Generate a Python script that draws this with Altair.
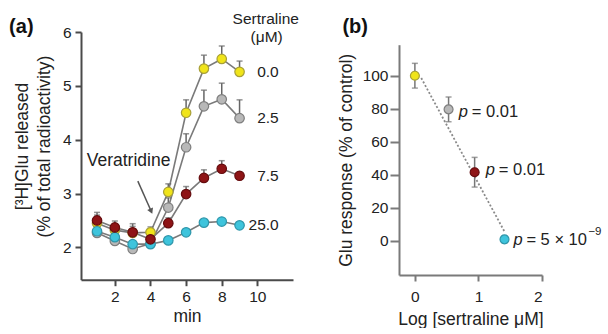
import altair as alt
import pandas as pd

FONT = "Liberation Sans"

# ---------------- Panel (a): glutamate release time course ----------------
minutes = [1, 2, 3, 4, 5, 6, 7, 8, 9]
series_names = ["0.0", "2.5", "7.5", "25.0"]
release_0 = [2.45, 2.32, 2.27, 2.28, 3.03, 4.50, 5.32, 5.50, 5.26]
release_2_5 = [2.27, 2.12, 1.97, 2.07, 2.74, 3.86, 4.62, 4.75, 4.40]
release_7_5 = [2.50, 2.37, 2.28, 2.15, 2.45, 2.99, 3.29, 3.46, 3.33]
release_25 = [2.30, 2.19, 2.06, 2.06, 2.13, 2.28, 2.46, 2.48, 2.41]
sem_0 = [0.15, 0.12, 0.12, 0.10, 0.15, 0.24, 0.25, 0.24, 0.20]
sem_2_5 = [0.10, 0.10, 0.10, 0.10, 0.18, 0.25, 0.30, 0.30, 0.34]
sem_7_5 = [0.15, 0.12, 0.16, 0.08, 0.10, 0.14, 0.15, 0.15, 0.06]
sem_25 = [0.05, 0.05, 0.05, 0.04, 0.05, 0.05, 0.05, 0.05, 0.05]

fills = ["#f0e41a", "#b8b8b8", "#8e1416", "#3ec4dc"]
strokes = ["#a8a038", "#7e7e7e", "#650c0e", "#2f96aa"]
# drawing order: grey first, then yellow, cyan, red on top
draw_order = {"2.5": 0, "0.0": 1, "25.0": 2, "7.5": 3}

rows = []
for name, vals, sems in zip(series_names,
                            [release_0, release_2_5, release_7_5, release_25],
                            [sem_0, sem_2_5, sem_7_5, sem_25]):
    for m, v, s in zip(minutes, vals, sems):
        rows.append({"x": m, "y": v, "y2": v + s, "series": name,
                     "order": draw_order[name]})
df_a = pd.DataFrame(rows).sort_values(["order", "x"])

# series labels at the right end of each curve
label_x = [11.2, 11.2, 11.2, 11.2]
label_y = [release_0[-1], release_2_5[-1], release_7_5[-1], release_25[-1]]
df_lab = pd.DataFrame({"x": label_x, "y": label_y, "text": series_names})

df_head = pd.DataFrame({"x": [10.47, 10.52], "y": [6.25, 5.91],
                        "text": ["Sertraline", "(μM)"]})
df_vera = pd.DataFrame({"x": [2.77], "y": [3.60], "text": ["Veratridine"]})
arrow_x = [3.29, 4.04]
arrow_y = [3.23, 2.67]
df_arrow = pd.DataFrame({"x": [arrow_x[0]], "y": [arrow_y[0]],
                         "x2": [arrow_x[1]], "y2": [arrow_y[1]]})
df_arrow_head = pd.DataFrame({"x": [arrow_x[1]], "y": [arrow_y[1]]})
df_tag_a = pd.DataFrame({"x": [-3.25], "y": [6.1], "text": ["(a)"]})

AX_A = "#4a4a4a"
x_scale_a = alt.Scale(domain=[0.1, 12], nice=False, zero=False)
y_scale_a = alt.Scale(domain=[1.4, 6], nice=False, zero=False)
x_axis_a = alt.Axis(values=[2, 4, 6, 8, 10], title="min", grid=False,
                    tickSize=6, tickWidth=2, tickColor=AX_A,
                    domainColor=AX_A, domainWidth=2, labelPadding=4,
                    labelFontSize=15.5, labelColor="#222", labelFont=FONT,
                    titleFont=FONT, titleFontSize=17.5, titleFontWeight="normal",
                    titleColor="#222", titlePadding=2)
y_axis_a = alt.Axis(values=[2, 3, 4, 5, 6],
                    title=["[³H]Glu released", "(% of total radioactivity)"],
                    grid=False, tickSize=6, tickWidth=2, tickColor=AX_A,
                    domainColor=AX_A, domainWidth=2, labelPadding=4,
                    labelFontSize=15.5, labelColor="#222", labelFont=FONT,
                    titleFont=FONT, titleFontSize=17.5, titleFontWeight="normal",
                    titleColor="#222", titleLineHeight=22, titleY=114,
                    titlePadding=9)

def xa(field="x"):
    return alt.X(f"{field}:Q", scale=x_scale_a, axis=x_axis_a)

def ya(field="y"):
    return alt.Y(f"{field}:Q", scale=y_scale_a, axis=y_axis_a)

color_a = alt.Color("series:N", scale=alt.Scale(domain=series_names, range=fills),
                    legend=None)
stroke_a = alt.Stroke("series:N", scale=alt.Scale(domain=series_names, range=strokes),
                      legend=None)

lines_a = alt.Chart(df_a).mark_line(color="#7a7a7a", strokeWidth=1.6).encode(
    x=xa(), y=ya(), detail="series:N", order="x:Q")
err_a = alt.Chart(df_a).mark_rule(color="#666", strokeWidth=1.5).encode(
    x=xa(), y=ya(), y2="y2:Q")
cap_a = alt.Chart(df_a).mark_tick(color="#666", orient="horizontal", size=6,
                                  thickness=1.5).encode(x=xa(), y=ya("y2"))
pts_a = alt.Chart(df_a).mark_point(filled=True, size=90, opacity=1,
                                   strokeWidth=1.2, strokeOpacity=1).encode(
    x=xa(), y=ya(), fill=color_a, stroke=stroke_a, order="order:Q")
labels_a = alt.Chart(df_lab).mark_text(align="right", baseline="middle",
                                       font=FONT, fontSize=15.5, color="#222").encode(
    x=xa(), y=ya(), text="text:N")
head_a = alt.Chart(df_head).mark_text(align="center", baseline="middle",
                                      font=FONT, fontSize=15.5, color="#222").encode(
    x=xa(), y=ya(), text="text:N")
vera_a = alt.Chart(df_vera).mark_text(align="center", baseline="middle",
                                      font=FONT, fontSize=17.5, color="#222").encode(
    x=xa(), y=ya(), text="text:N")
arrow_a = alt.Chart(df_arrow).mark_rule(color="#555", strokeWidth=1.5).encode(
    x=xa(), y=ya(), x2="x2:Q", y2="y2:Q")
arrow_tip = alt.Chart(df_arrow_head).mark_point(shape="triangle-down", filled=True,
                                               color="#555", size=40, angle=336,
                                               opacity=1).encode(x=xa(), y=ya())
tag_a = alt.Chart(df_tag_a).mark_text(align="center", baseline="middle", font=FONT,
                                      fontSize=20, fontWeight="bold",
                                      color="#111").encode(
    x=xa(), y=ya(), text="text:N")

panel_a = alt.layer(lines_a, err_a, cap_a, arrow_a, arrow_tip, pts_a, labels_a,
                    head_a, vera_a, tag_a).properties(width=212, height=247.7)

# ---------------- Panel (b): concentration response ----------------
log_conc = [0.0, 0.53, 0.94, 1.41]
glu_response = [100.0, 79.6, 41.5, 0.8]
glu_err = [7.5, 7.5, 9.0, 2.0]
fit_x = [0.1, 1.41]
fit_y = [98.6, 5.5]
p_x = [0.69, 1.115, 1.55]
p_y = [78.3, 42.9, 0.4]
p_text = ["= 0.01", "= 0.01", "= 5 × 10"]
p_exp = ["", "", "−9"]

df_b = pd.DataFrame({"x": log_conc, "y": glu_response,
                     "lo": [v - e for v, e in zip(glu_response, glu_err)],
                     "hi": [v + e for v, e in zip(glu_response, glu_err)],
                     "series": series_names})
df_fit = pd.DataFrame({"x": fit_x, "y": fit_y})
df_p = pd.DataFrame({"x": p_x, "y": p_y, "text": p_text, "exp": p_exp})
df_tag_b = pd.DataFrame({"x": [-0.94], "y": [129.8], "text": ["(b)"]})

AX_B = "#7a7a7a"
x_scale_b = alt.Scale(domain=[-0.25, 2], nice=False, zero=False)
y_scale_b = alt.Scale(domain=[-20.8, 118.8], range=[243, 12.7], nice=False, zero=False)
x_axis_b = alt.Axis(values=[0, 1, 2], title="Log [sertraline μM]", grid=False,
                    tickSize=6, tickWidth=2, tickColor=AX_B,
                    domainColor=AX_B, domainWidth=2, labelPadding=8,
                    labelFontSize=15.5, labelColor="#222", labelFont=FONT,
                    titleFont=FONT, titleFontSize=17.5, titleFontWeight="normal",
                    titleColor="#222", titlePadding=6)
y_axis_b = alt.Axis(values=[0, 20, 40, 60, 80, 100],
                    title="Glu response (% of control)", grid=False,
                    tickSize=9, tickWidth=2, tickColor=AX_B,
                    domainColor=AX_B, domainWidth=2, labelPadding=2,
                    labelFontSize=15.5, labelColor="#222", labelFont=FONT,
                    titleFont=FONT, titleFontSize=17.5, titleFontWeight="normal",
                    titleColor="#222", titlePadding=7)

def xb(field="x"):
    return alt.X(f"{field}:Q", scale=x_scale_b, axis=x_axis_b)

def yb(field="y"):
    return alt.Y(f"{field}:Q", scale=y_scale_b, axis=y_axis_b)

fit_b = alt.Chart(df_fit).mark_line(color="#8a8a8a", strokeWidth=1.8,
                                    strokeDash=[2, 2]).encode(x=xb(), y=yb())
err_b = alt.Chart(df_b).mark_rule(color="#777", strokeWidth=1.5).encode(
    x=xb(), y=yb("lo"), y2="hi:Q")
cap_lo = alt.Chart(df_b).mark_tick(color="#777", orient="horizontal", size=6,
                                   thickness=1.5).encode(x=xb(), y=yb("lo"))
cap_hi = alt.Chart(df_b).mark_tick(color="#777", orient="horizontal", size=6,
                                   thickness=1.5).encode(x=xb(), y=yb("hi"))
pts_b = alt.Chart(df_b).mark_point(filled=True, size=80, opacity=1,
                                   strokeWidth=1.2, strokeOpacity=1).encode(
    x=xb(), y=yb(), fill=color_a, stroke=stroke_a)
p_italic = alt.Chart(df_p).mark_text(align="left", baseline="middle", font=FONT,
                                     fontSize=16.5, fontStyle="italic",
                                     color="#222").encode(
    x=xb(), y=yb(), text=alt.value("p"))
p_rest = alt.Chart(df_p).mark_text(align="left", baseline="middle", font=FONT,
                                   fontSize=16.5, dx=13, color="#222").encode(
    x=xb(), y=yb(), text="text:N")
p_sup = alt.Chart(df_p).mark_text(align="left", baseline="middle", font=FONT,
                                  fontSize=11.5, dx=75, dy=-8, color="#222").encode(
    x=xb(), y=yb(), text="exp:N")
tag_b = alt.Chart(df_tag_b).mark_text(align="center", baseline="middle", font=FONT,
                                      fontSize=20, fontWeight="bold",
                                      color="#111").encode(
    x=xb(), y=yb(), text="text:N")

panel_b = alt.layer(fit_b, err_b, cap_lo, cap_hi, pts_b, p_italic, p_rest, p_sup,
                    tag_b).properties(width=143, height=243)

chart = alt.hconcat(panel_a, panel_b, spacing=106, bounds="flush").properties(
    padding={"left": 9, "top": 11, "right": 0, "bottom": 0},
    background="white",
).configure_view(stroke=None)

chart.save("out.html", embed_options={"renderer": "svg", "actions": False})
